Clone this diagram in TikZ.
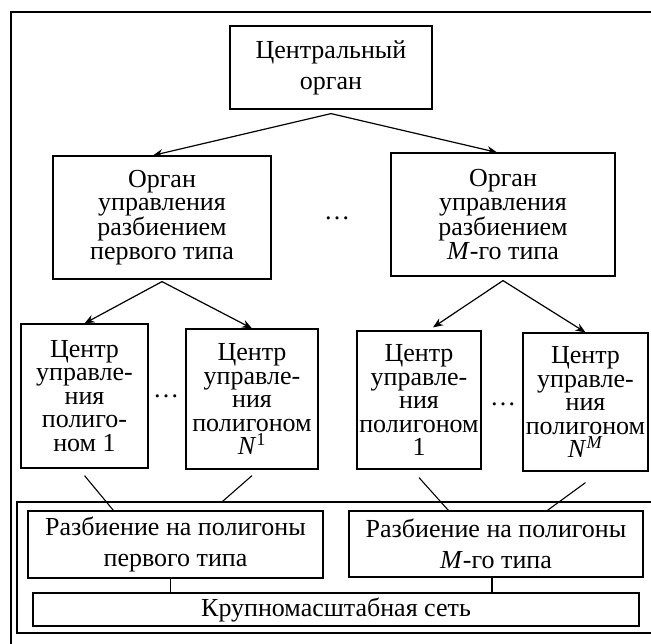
\documentclass[tikz,border=0pt]{standalone}
\usepackage{fontspec}
\setmainfont{Liberation Serif}
\usetikzlibrary{arrows.meta,calc,positioning}

\begin{document}
\begin{tikzpicture}[x=1pt,y=-1pt,
    blk/.style={draw,line width=1.2pt,inner sep=0pt,align=center},
    tight/.style={font=\fontsize{26}{23.5}\selectfont},
    loose/.style={font=\fontsize{26}{31}\selectfont},
    arr/.style={-{Stealth[length=10pt,width=8pt]},line width=1.2pt},
    lnk/.style={line width=1.1pt}]
        \useasboundingbox (0,0) rectangle (651,643);
        \clip (0,0) rectangle (651,643);

        % frames
        \draw[line width=1.8pt] (11,12) rectangle (680,680);
        \draw[line width=1.1pt] (17,502) rectangle (680,633);

        % top levels
        \node[blk,loose,minimum width=202pt,minimum height=83pt] (central) at (331,67.5) {Центральный\\орган};
        \node[blk,tight,minimum width=218pt,minimum height=123pt] (orgA) at (162,217.5) {Орган\\управления\\разбиением\\первого типа};
        \node[blk,tight,minimum width=224pt,minimum height=123pt] (orgM) at (503,214.5) {Орган\\управления\\разбиением\\\textit{M}-го типа};
        \node[tight] (dtop) at (337,218) {\dots};

        % centres
        \node[blk,tight,minimum width=127pt,minimum height=144pt] (cA) at (84.5,396) {Центр\\управле-\\ния\\полиго-\\ном 1};
        \node[blk,tight,minimum width=132pt,minimum height=140pt] (cB) at (252,399) {Центр\\управле-\\ния\\полигоном\\\textit{N}\textsuperscript{1}};
        \node[blk,tight,minimum width=124pt,minimum height=138pt] (cC) at (419,400) {Центр\\управле-\\ния\\полигоном\\1};
        \node[blk,tight,minimum width=125pt,minimum height=138pt] (cD) at (585.5,402) {Центр\\управле-\\ния\\полигоном\\\textit{N}\textsuperscript{\textit{M}}};
        \node[tight] (dA) at (166,396) {\dots};
        \node[tight] (dM) at (503,404) {\dots};

        % partitions and network
        \node[blk,loose,minimum width=295pt,minimum height=67pt] (razbA) at (175.5,544.5) {Разбиение на полигоны\\первого типа};
        \node[blk,loose,minimum width=294pt,minimum height=66pt] (razbM) at (496,544) {Разбиение на полигоны\\\textit{M}-го типа};
        \node[blk,loose,minimum width=606pt,minimum height=33pt] (net) at (336,609.5) {Крупномасштабная сеть};

        \coordinate (c0) at ([yshift=-4pt]central.south);
        \coordinate (a0) at ([yshift=-2pt]orgA.south);
        \coordinate (m0) at ([yshift=-4pt]orgM.south);
        \draw[arr] (c0) -- ([xshift=-9pt]orgA.north);
        \draw[arr] (c0) -- ([xshift=-6pt]orgM.north);
        \draw[arr] (a0) -- (cA.north);
        \draw[arr] (a0) -- (cB.north);
        \draw[arr] (m0) -- ([xshift=14pt,yshift=3pt]cC.north);
        \draw[arr] (m0) -- (cD.north);

        \draw[lnk] ([yshift=-7pt]cA.south) -- ([xshift=86pt]razbA.north west);
        \draw[lnk] ([yshift=-6pt]cB.south) -- ([xshift=194pt,yshift=8pt]razbA.north west);
        \draw[lnk] ([yshift=-8pt]cC.south) -- ([xshift=100pt]razbM.north west);
        \draw[lnk] ([yshift=-11pt]cD.south) -- ([xshift=199pt]razbM.north west);
        \draw[lnk] ([xshift=-5pt]razbA.south) -- ([xshift=-5pt]razbA.south |- net.north);
        \draw[lnk] ([xshift=-4pt]razbM.south) -- ([xshift=-4pt]razbM.south |- net.north);
\end{tikzpicture}
\end{document}
